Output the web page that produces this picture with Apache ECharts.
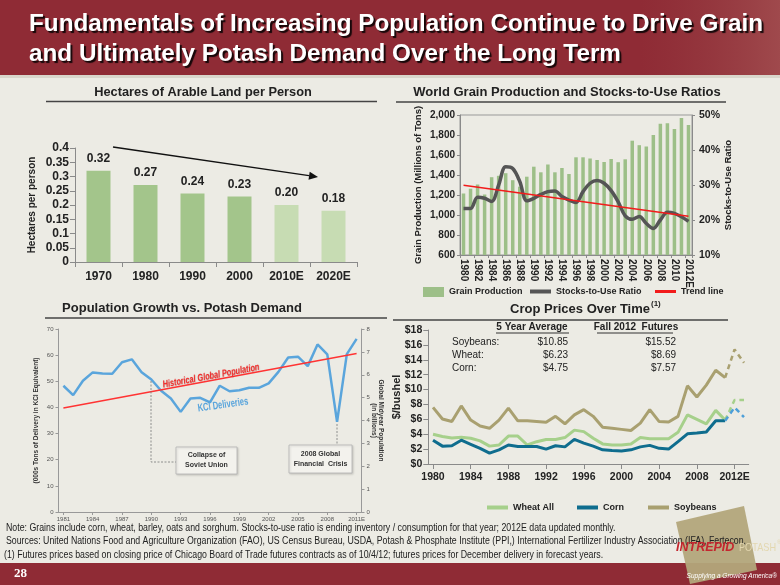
<!DOCTYPE html>
<html><head><meta charset="utf-8">
<script src="https://cdn.jsdelivr.net/npm/echarts@6/dist/echarts.min.js"></script>
<style>html,body{margin:0;padding:0;background:#ecebe4;}#c{width:780px;height:585px;}</style>
</head><body><div id="c"></div>
<script>
// ---------- DATA ----------
const hectareYears = ['1970','1980','1990','2000','2010E','2020E'];
const hectareValues = [0.32,0.27,0.24,0.23,0.20,0.18];

const grainYears = ['1980','1981','1982','1983','1984','1985','1986','1987','1988','1989','1990','1991','1992','1993','1994','1995','1996','1997','1998','1999','2000','2001','2002','2003','2004','2005','2006','2007','2008','2009','2010','2011','2012E'];
const grainProduction = [1215,1263,1305,1205,1378,1392,1418,1348,1283,1383,1483,1427,1505,1427,1470,1410,1577,1577,1565,1550,1530,1560,1528,1557,1743,1698,1685,1800,1912,1918,1860,1970,1900];
const stocksToUse = [23.3,23.3,26.5,26.2,25.3,30.0,35.2,34.7,31.0,25.5,26.2,27.3,28.1,28.3,26.7,25.7,25.0,28.1,30.5,31.3,30.5,28.4,25.2,21.2,20.2,21.0,19.0,17.6,20.0,22.2,21.9,20.9,19.6];
const trendLine = [29.9,null,null,null,null,null,null,null,null,null,null,null,null,null,null,null,null,null,null,null,null,null,null,null,null,null,null,null,null,null,null,null,21.1];

const kclYears = ['1981','1982','1983','1984','1985','1986','1987','1988','1989','1990','1991','1992','1993','1994','1995','1996','1997','1998','1999','2000','2001','2002','2003','2004','2005','2006','2007','2008','2009','2010','2011E'];
const kclDeliveries = [48.3,44.7,50.2,53.4,53.0,52.9,57.3,58.4,53.5,50.7,46.4,43.4,38.3,43.4,43.7,41.9,48.3,46.2,46.6,47.5,47.5,49.2,53.6,59.1,59.4,55.8,64.1,60.3,34.5,60.4,66.2];
const globalPopulation = [4.55,null,null,null,null,null,null,null,null,null,null,null,null,null,null,null,null,null,null,null,null,null,null,null,null,null,null,null,null,null,6.93];

const cropYears = ['1980','1981','1982','1983','1984','1985','1986','1987','1988','1989','1990','1991','1992','1993','1994','1995','1996','1997','1998','1999','2000','2001','2002','2003','2004','2005','2006','2007','2008','2009','2010','2011','2012E','2013E'];
const wheatAll = [4.0,3.7,3.5,3.6,3.45,3.1,2.4,2.55,3.75,3.75,2.55,3.0,3.3,3.3,3.55,4.55,4.35,3.45,2.7,2.55,2.55,2.7,3.55,3.4,3.4,3.4,4.25,6.6,6.0,5.4,7.2,5.9,null,null];
const wheatFutures = [null,null,null,null,null,null,null,null,null,null,null,null,null,null,null,null,null,null,null,null,null,null,null,null,null,null,null,null,null,null,null,5.9,8.6,8.6];
const corn = [3.2,2.4,2.45,3.2,2.65,2.1,1.45,1.9,2.55,2.35,2.35,2.35,2.0,2.45,2.3,3.3,2.8,2.4,1.9,1.8,1.75,1.9,2.3,2.5,2.1,2.0,3.0,4.05,4.15,4.3,5.8,5.8,null,null];
const cornFutures = [null,null,null,null,null,null,null,null,null,null,null,null,null,null,null,null,null,null,null,null,null,null,null,null,null,null,null,null,null,null,null,5.8,7.6,6.3];
const soybeans = [7.6,6.05,5.7,7.8,5.9,5.1,4.8,5.9,7.5,5.8,5.8,5.7,5.6,6.4,5.4,6.6,7.3,6.4,4.95,4.8,4.65,4.5,5.5,7.3,5.7,5.65,6.4,10.5,9.0,10.6,12.6,11.6,null,null];
const soybeanFutures = [null,null,null,null,null,null,null,null,null,null,null,null,null,null,null,null,null,null,null,null,null,null,null,null,null,null,null,null,null,null,null,11.6,15.4,13.6];

const tableLabels = ['Soybeans:','Wheat:','Corn:'];
const tableFiveYear = ['$10.85','$6.23','$4.75'];
const tableFutures = ['$15.52','$8.69','$7.57'];

// ---------- LAYOUT ----------
const F = "'Liberation Sans', Arial, Helvetica, sans-serif";
const ctx = document.createElement('canvas').getContext('2d');
function fitScale(text, font, w){ ctx.font = font; return w / ctx.measureText(text).width; }

const title1 = 'Fundamentals of Increasing Population Continue to Drive Grain';
const title2 = 'and Ultimately Potash Demand Over the Long Term';
const titleFont = 'bold 24px ' + F;
const tScale = fitScale(title1, titleFont, 734);

const note1 = 'Note: Grains include corn, wheat, barley, oats and sorghum. Stocks-to-use ratio is ending inventory / consumption for that year; 2012E data updated monthly.';
const note2 = 'Sources: United Nations Food and Agriculture Organization (FAO), US Census Bureau, USDA, Potash & Phosphate Institute (PPI,) International Fertilizer Industry Association (IFA), Fertecon,';
const note3 = '(1) Futures prices based on closing price of Chicago Board of Trade futures contracts as of 10/4/12; futures prices for December delivery in forecast years.';
const noteFont = '10px ' + F;
const nScale = fitScale(note2, noteFont, 740);

const popLabel = 'Historical Global Population';
const popFont = 'bold italic 10px ' + F;
const popScale = fitScale(popLabel, popFont, 98);
const kclLabel = 'KCl Deliveries';
const kclFont = 'bold 11px ' + F;
const kclScale = fitScale(kclLabel, kclFont, 51);
const potFont = '11px ' + F;
const potScale = fitScale('POTASH', potFont, 37);

const dark = '#222';
const axisGray = '#8a8a8a';

function txt(x, y, text, font, fill, align, extra){
  return Object.assign({type:'text', x:x, y:y, z:10, style:{text:text, font:font, fill:fill||dark, align:align||'left', verticalAlign:'middle'}}, extra||{});
}
function line(x1,y1,x2,y2,stroke,w,dash){
  return {type:'line', z:10, shape:{x1:x1,y1:y1,x2:x2,y2:y2}, style:{stroke:stroke, lineWidth:w||1, lineDash:dash||null}};
}
const shadowTitle = {textShadowColor:'rgba(0,0,0,0.85)', textShadowBlur:1, textShadowOffsetX:2, textShadowOffsetY:2};

const graphics = [
  {type:'rect', z:1, shape:{x:0,y:0,width:780,height:75}, style:{fill:'#8f2b35'}},
  {type:'rect', z:1, shape:{x:640,y:0,width:140,height:75}, style:{fill:{type:'linear',x:0,y:0,x2:1,y2:0,colorStops:[{offset:0,color:'rgba(160,90,90,0)'},{offset:1,color:'rgba(190,130,120,0.35)'}]}}},
  {type:'rect', z:1, shape:{x:0,y:75,width:780,height:3}, style:{fill:'#d9d6cb'}},
  {type:'text', x:29, y:24, z:10, scaleX:tScale, style:Object.assign({text:title1, font:titleFont, fill:'#fff', align:'left', verticalAlign:'middle'}, shadowTitle)},
  {type:'text', x:29, y:54, z:10, scaleX:tScale, style:Object.assign({text:title2, font:titleFont, fill:'#fff', align:'left', verticalAlign:'middle'}, shadowTitle)},
  // chart titles
  txt(203, 92, 'Hectares of Arable Land per Person', 'bold 12.8px ' + F, dark, 'center'),
  line(46, 101.5, 377, 101.5, '#444', 1.5),
  txt(567, 92, 'World Grain Production and Stocks-to-Use Ratios', 'bold 13px ' + F, dark, 'center'),
  line(396, 102, 726, 102, '#444', 1.5),
  txt(182, 308, 'Population Growth vs. Potash Demand', 'bold 13px ' + F, dark, 'center'),
  line(45, 318, 387, 318, '#444', 1.5),
  txt(650, 309, 'Crop Prices Over Time', 'bold 13px ' + F, dark, 'right'),
  txt(651, 304, '(1)', 'bold 8px ' + F, dark, 'left'),
  line(393, 320, 728, 320, '#444', 1.5),
  // chart 1 arrow
  line(113, 147, 309, 175.7, '#111', 1.3),
  {type:'polygon', z:10, shape:{points:[[318,177],[309.7,171.7],[308.5,179.7]]}, style:{fill:'#111'}},
  // chart 3 annotations
  {type:'text', x:211, y:376, z:10, rotation:0.183, scaleX:popScale, style:{text:popLabel, font:popFont, fill:'#f0302e', align:'center', verticalAlign:'middle', textShadowColor:'rgba(120,0,0,0.35)', textShadowBlur:1, textShadowOffsetX:0.5, textShadowOffsetY:0.5}},
  {type:'text', x:223, y:405, z:10, rotation:0.14, scaleX:kclScale, style:{text:kclLabel, font:kclFont, fill:'#5aa5dc', align:'center', verticalAlign:'middle'}},
  {type:'polyline', z:10, shape:{points:[[151,381],[151,462],[176,462]]}, style:{stroke:'#777', lineWidth:0.8, lineDash:[2,1.5], fill:null}},
  line(337, 424, 337, 445, '#777', 0.8, [2,1.5]),
  {type:'rect', z:10, shape:{x:176,y:447,width:61,height:27}, style:{fill:'#f3f2ed', stroke:'#b3b3b3', lineWidth:0.8, shadowColor:'rgba(0,0,0,0.15)', shadowBlur:2, shadowOffsetX:1, shadowOffsetY:1}},
  txt(206.5, 455.5, 'Collapse of', 'bold 7px ' + F, '#333', 'center'),
  txt(206.5, 465, 'Soviet Union', 'bold 7px ' + F, '#333', 'center'),
  {type:'rect', z:10, shape:{x:289,y:445,width:63,height:28}, style:{fill:'#f3f2ed', stroke:'#b3b3b3', lineWidth:0.8, shadowColor:'rgba(0,0,0,0.15)', shadowBlur:2, shadowOffsetX:1, shadowOffsetY:1}},
  txt(320.5, 454, '2008 Global', 'bold 7px ' + F, '#333', 'center'),
  txt(320.5, 464, 'Financial  Crisis', 'bold 7px ' + F, '#333', 'center'),
  // chart 4 table
  txt(532, 327.5, '5 Year Average', 'bold 10px ' + F, dark, 'center'),
  txt(636, 327.5, 'Fall 2012  Futures', 'bold 10px ' + F, dark, 'center'),
  line(496, 333, 569, 333, '#333', 1),
  line(597, 333, 673, 333, '#333', 1),
  // footer
  {type:'rect', z:1, shape:{x:0,y:563,width:780,height:22}, style:{fill:'#8f2b35'}},
  txt(14, 574, '28', 'bold 13px "Liberation Serif", "DejaVu Serif", serif', '#fff', 'left'),
  txt(6, 528, note1, noteFont, '#222', 'left', {scaleX:nScale}),
  txt(6, 541.5, note2, noteFont, '#222', 'left', {scaleX:nScale}),
  txt(4, 555, note3, noteFont, '#222', 'left', {scaleX:nScale}),
  {type:'polygon', z:5, shape:{points:[[676,522],[744,506],[757,570],[690,584]]}, style:{fill:'#b3a67b', opacity:0.95}},
  txt(676, 548, 'INTREPID', 'bold italic 12.5px ' + F, '#c4262e', 'left'),
  {type:'text', x:739, y:548, z:10, scaleX:potScale, style:{text:'POTASH', font:potFont, fill:'#e3d7b0', align:'left', verticalAlign:'middle'}},
  txt(777, 542, '\u00AE', '6px ' + F, '#e3d7b0', 'left'),
  txt(777, 576, 'Supplying a Growing America\u00AE', 'italic 6.5px ' + F, '#fff', 'right')
];
tableLabels.forEach((l,i)=>{
  const y = 342 + i*13;
  graphics.push(txt(452, y, l, '10px ' + F, dark, 'left'));
  graphics.push(txt(568, y, tableFiveYear[i], '10px ' + F, dark, 'right'));
  graphics.push(txt(676, y, tableFutures[i], '10px ' + F, dark, 'right'));
});

const boldLbl = (size)=>({fontFamily:F, fontWeight:'bold', fontSize:size, color:dark});
const grayAxis = {show:true, lineStyle:{color:axisGray, width:1}};
const legendBase = (name, left, top, icon, h)=>({data:[name], left:left, top:top, icon:icon, itemWidth:21, itemHeight:h, itemGap:5, textStyle:boldLbl(9)});

const option = {
  backgroundColor:'#ecebe4',
  animation:false,
  textStyle:{fontFamily:F},
  grid:[
    {left:75, top:148, width:282, height:114},
    {left:460, top:115, width:232, height:140, show:true, borderColor:'#999', borderWidth:1, backgroundColor:'transparent'},
    {left:58.5, top:329, width:303, height:183},
    {left:428.3, top:330, width:320.4, height:134}
  ],
  xAxis:[
    {gridIndex:0, type:'category', data:hectareYears, axisLine:grayAxis, axisTick:{show:true, lineStyle:{color:axisGray}}, axisLabel:Object.assign(boldLbl(12),{margin:9})},
    {gridIndex:1, type:'category', data:grainYears, axisLine:grayAxis, axisTick:{show:true, lineStyle:{color:axisGray}, length:3}, axisLabel:Object.assign(boldLbl(10),{rotate:-90, interval:1, margin:4})},
    {gridIndex:2, type:'category', data:kclYears, axisLine:{show:true, lineStyle:{color:'#999'}}, axisTick:{show:true, alignWithLabel:true, interval:2, length:3, lineStyle:{color:'#999'}}, axisLabel:{interval:2, fontSize:6, color:'#555', margin:4}},
    {gridIndex:3, type:'category', data:cropYears, axisLine:grayAxis, axisTick:{show:true, alignWithLabel:true, interval:3, lineStyle:{color:axisGray}}, axisLabel:Object.assign(boldLbl(10.5),{interval:3, margin:8})}
  ],
  yAxis:[
    {gridIndex:0, type:'value', min:0, max:0.4, interval:0.05, splitLine:{show:false}, axisLine:grayAxis, axisTick:{show:true, lineStyle:{color:axisGray}}, axisLabel:Object.assign(boldLbl(12),{margin:6}),
      name:'Hectares per person', nameLocation:'middle', nameRotate:90, nameGap:38, nameMoveOverlap:false, nameTextStyle:boldLbl(10)},
    {gridIndex:1, type:'value', min:600, max:2000, interval:200, splitLine:{show:false}, axisLine:grayAxis, axisTick:{show:true, length:3, lineStyle:{color:axisGray}}, axisLabel:Object.assign(boldLbl(10),{margin:5, formatter:v=>v.toLocaleString('en-US')}),
      name:'Grain Production (Millions of Tons)', nameLocation:'middle', nameRotate:90, nameGap:37, nameMoveOverlap:false, nameTextStyle:boldLbl(9.5)},
    {gridIndex:1, type:'value', position:'right', min:10, max:50, interval:10, splitLine:{show:false}, axisLine:grayAxis, axisTick:{show:true, length:3, lineStyle:{color:axisGray}}, axisLabel:Object.assign(boldLbl(10.5),{margin:7, formatter:'{value}%'}),
      name:'Stocks-to-Use Ratio', nameLocation:'middle', nameRotate:90, nameGap:31, nameMoveOverlap:false, nameTextStyle:boldLbl(9.5)},
    {gridIndex:2, type:'value', min:0, max:70, interval:10, splitLine:{show:false}, axisLine:{show:true, lineStyle:{color:'#999'}}, axisTick:{show:true, length:3, lineStyle:{color:'#999'}}, axisLabel:{fontSize:6, color:'#555', margin:5},
      name:'(000s Tons of Delivery in KCl Equivalent)', nameLocation:'middle', nameRotate:90, nameGap:18.5, nameMoveOverlap:false, nameTextStyle:{fontFamily:F, fontWeight:'bold', fontSize:6.5, color:'#333'}},
    {gridIndex:2, type:'value', position:'right', min:0, max:8, interval:1, splitLine:{show:false}, axisLine:{show:true, lineStyle:{color:'#999'}}, axisTick:{show:true, length:3, lineStyle:{color:'#999'}}, axisLabel:{fontSize:6, color:'#555', margin:5},
      name:'Global Midyear Population\n(in billions)', nameLocation:'middle', nameRotate:-90, nameGap:9, nameMoveOverlap:false, nameTextStyle:{fontFamily:F, fontWeight:'bold', fontSize:6.5, color:'#333', lineHeight:7}},
    {gridIndex:3, type:'value', min:0, max:18, interval:2, splitLine:{show:false}, axisLine:grayAxis, axisTick:{show:true, lineStyle:{color:axisGray}}, axisLabel:Object.assign(boldLbl(10.5),{margin:6, formatter:'${value}'}),
      name:'$/bushel', nameLocation:'middle', nameRotate:90, nameGap:26, nameMoveOverlap:false, nameTextStyle:boldLbl(11)}
  ],
  legend:[
    legendBase('Grain Production', 418, 282, 'rect', 10),
    legendBase('Stocks-to-Use Ratio', 525, 282, 'rect', 4),
    legendBase('Trend line', 650, 282, 'rect', 3),
    legendBase('Wheat All', 482, 498, 'rect', 4),
    legendBase('Corn', 572, 498, 'rect', 4),
    legendBase('Soybeans', 643, 498, 'rect', 4)
  ],
  graphic:{elements:graphics},
  series:[
    {name:'Hectares', type:'bar', xAxisIndex:0, yAxisIndex:0, barWidth:24,
      data:hectareValues.map((v,i)=>({value:v, itemStyle:{color: i<4 ? '#a3c58b' : '#c7dcb3'}})),
      label:{show:true, position:'top', distance:6, formatter:p=>p.value.toFixed(2), fontFamily:F, fontWeight:'bold', fontSize:12, color:dark}},
    {name:'Grain Production', type:'bar', xAxisIndex:1, yAxisIndex:1, barWidth:3.5, data:grainProduction, itemStyle:{color:'#9dbf88'}},
    {name:'Stocks-to-Use Ratio', type:'line', xAxisIndex:1, yAxisIndex:2, data:stocksToUse, symbol:'none', smooth:0.35, lineStyle:{color:'#555', width:3.5}, itemStyle:{color:'#555'}},
    {name:'Trend line', type:'line', xAxisIndex:1, yAxisIndex:2, data:trendLine, connectNulls:true, symbol:'none', lineStyle:{color:'#f21b1b', width:1.5}, itemStyle:{color:'#f21b1b'}},
    {name:'KCl Deliveries', type:'line', xAxisIndex:2, yAxisIndex:3, data:kclDeliveries, symbol:'none', lineStyle:{color:'#5aa5dc', width:2.5}},
    {name:'Global Population', type:'line', xAxisIndex:2, yAxisIndex:4, data:globalPopulation, connectNulls:true, symbol:'none', lineStyle:{color:'#f33', width:1.5}},
    {name:'Wheat All', type:'line', xAxisIndex:3, yAxisIndex:5, data:wheatAll, symbol:'none', lineStyle:{color:'#a6d08b', width:3}, itemStyle:{color:'#a6d08b'}},
    {name:'Corn', type:'line', xAxisIndex:3, yAxisIndex:5, data:corn, symbol:'none', lineStyle:{color:'#0f6d8e', width:3}, itemStyle:{color:'#0f6d8e'}},
    {name:'Soybeans', type:'line', xAxisIndex:3, yAxisIndex:5, data:soybeans, symbol:'none', lineStyle:{color:'#a9a070', width:3}, itemStyle:{color:'#a9a070'}},
    {name:'Wheat Futures', type:'line', xAxisIndex:3, yAxisIndex:5, data:wheatFutures, symbol:'none', lineStyle:{color:'#a6d08b', width:2.5, type:[5,4]}},
    {name:'Corn Futures', type:'line', xAxisIndex:3, yAxisIndex:5, data:cornFutures, symbol:'none', lineStyle:{color:'#4d9fd8', width:2.5, type:[5,4]}},
    {name:'Soybean Futures', type:'line', xAxisIndex:3, yAxisIndex:5, data:soybeanFutures, symbol:'none', lineStyle:{color:'#a9a070', width:2.5, type:[5,4]}}
  ]
};
const chart = echarts.init(document.getElementById('c'));
chart.setOption(option);
</script></body></html>
